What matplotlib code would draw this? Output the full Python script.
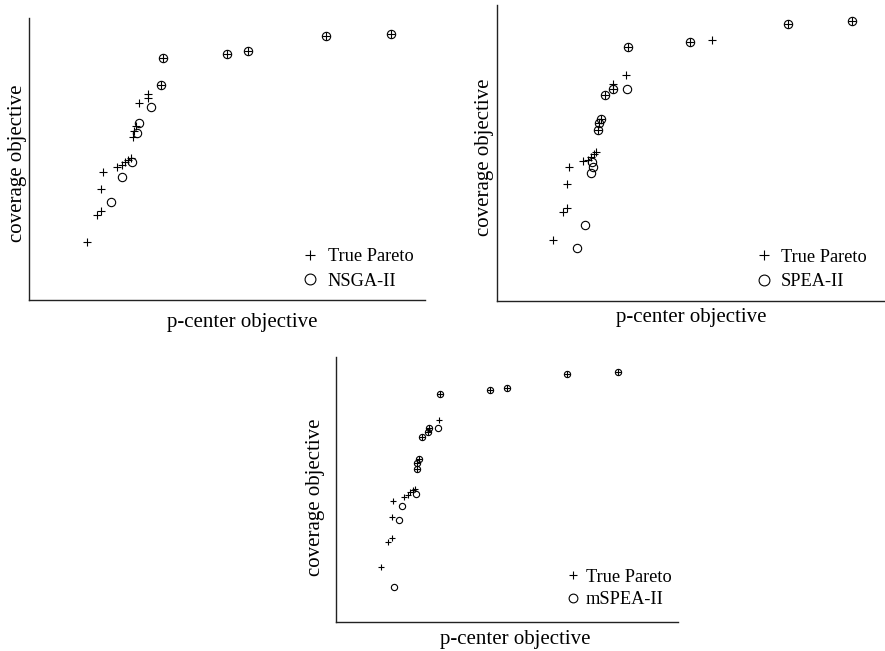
import matplotlib
matplotlib.use("Agg")
import matplotlib.pyplot as plt

plt.rcParams['font.family'] = ['Liberation Serif', 'DejaVu Serif']

# True Pareto front (p-center objective, coverage objective)
TRUE_P = [91.4, 75.1, 55.4, 49.9, 33.9, 33.4, 30.1, 30.0, 27.9, 27.0, 26.5,
          26.2, 25.7, 25.1, 24.2, 23.5, 22.3, 18.7, 18.2, 18.1, 17.1, 14.6]
TRUE_C = [94.5, 93.5, 88.2, 87.4, 85.9, 76.2, 73.2, 71.5, 69.7, 61.6, 60.0,
          57.8, 50.2, 49.7, 48.8, 47.8, 47.2, 45.4, 39.5, 31.5, 30.0, 20.7]

NSGA2_P = [91.4, 75.1, 55.4, 49.9, 33.9, 33.4, 30.9, 27.9, 27.2, 26.1, 23.4, 20.7]
NSGA2_C = [94.5, 93.5, 88.2, 87.4, 85.9, 76.2, 68.4, 62.9, 59.1, 48.9, 43.7, 34.9]

SPEA2_P = [91.4, 75.1, 49.9, 33.9, 33.5, 30.0, 27.9, 27.0, 26.5, 26.2,
           24.5, 24.8, 24.3, 22.9, 20.7]
SPEA2_C = [94.5, 93.5, 87.4, 85.9, 71.6, 71.5, 69.7, 61.6, 60.0, 57.8,
           46.9, 45.4, 43.3, 25.8, 17.8]

MSPEA2_P = [91.4, 75.1, 55.4, 49.9, 33.9, 33.3, 30.1, 30.0, 27.9, 27.0, 26.5,
            26.2, 25.9, 21.4, 20.6, 19.0]
MSPEA2_C = [94.5, 93.5, 88.2, 87.4, 85.9, 73.1, 73.2, 71.5, 69.7, 61.6, 60.0,
            57.8, 48.2, 43.7, 38.4, 12.9]

LABEL_FS = 15
LEGEND_FS = 13.2


def draw_panel(rect, algo_p, algo_c, algo_name, xmax, msize, leg_pos, leg_handle,
               leg_pad, leg_space, leg_scale, xlab_pos, ylab_pos):
    ax = fig.add_axes(rect)
    ax.plot(TRUE_P, TRUE_C, linestyle='none', marker='+', color='black',
            markersize=msize, markeredgewidth=0.8, label='True Pareto')
    ax.plot(algo_p, algo_c, linestyle='none', marker='o', markerfacecolor='none',
            markeredgecolor='black', markersize=msize, markeredgewidth=0.8,
            label=algo_name)
    ax.set_xlim(0, xmax)
    ax.set_ylim(0, 100)
    ax.set_xticks([])
    ax.set_yticks([])
    ax.spines['top'].set_visible(False)
    ax.spines['right'].set_visible(False)
    for s in ('left', 'bottom'):
        ax.spines[s].set_linewidth(1.0)
        ax.spines[s].set_color('#222222')
    ax.set_xlabel('p-center objective', fontsize=LABEL_FS)
    ax.set_ylabel('coverage objective', fontsize=LABEL_FS)
    ax.xaxis.set_label_coords(*xlab_pos)
    ax.yaxis.set_label_coords(*ylab_pos)
    ax.legend(loc='upper left', bbox_to_anchor=leg_pos, frameon=False,
              fontsize=LEGEND_FS, borderpad=0, borderaxespad=0,
              handlelength=leg_handle, handletextpad=leg_pad, labelspacing=leg_space,
              markerscale=leg_scale)
    return ax


fig = plt.figure(figsize=(8.85, 6.51), dpi=100)

draw_panel([29 / 885, 351 / 651, 396 / 885, 282 / 651], NSGA2_P, NSGA2_C, 'NSGA-II',
           100, 6, (0.686, 0.184), 1.0, 0.47, 0.41, 1.3, (0.538, -0.046), (-0.005, 0.486))
draw_panel([496.5 / 885, 350 / 651, 388.5 / 885, 296 / 651], SPEA2_P, SPEA2_C, 'SPEA-II',
           100, 6, (0.665, 0.176), 1.0, 0.41, 0.41, 1.3, (0.502, -0.024), (-0.007, 0.486))
draw_panel([335.65 / 885, 29.5 / 651, 342.3 / 885, 264.4 / 651], MSPEA2_P, MSPEA2_C, 'mSPEA-II',
           110.9, 4.5, (0.681, 0.199), 0.5, 0.42, 0.29, 1.4, (0.525, -0.032), (-0.030, 0.471))

fig.savefig('out.png', dpi=100)
